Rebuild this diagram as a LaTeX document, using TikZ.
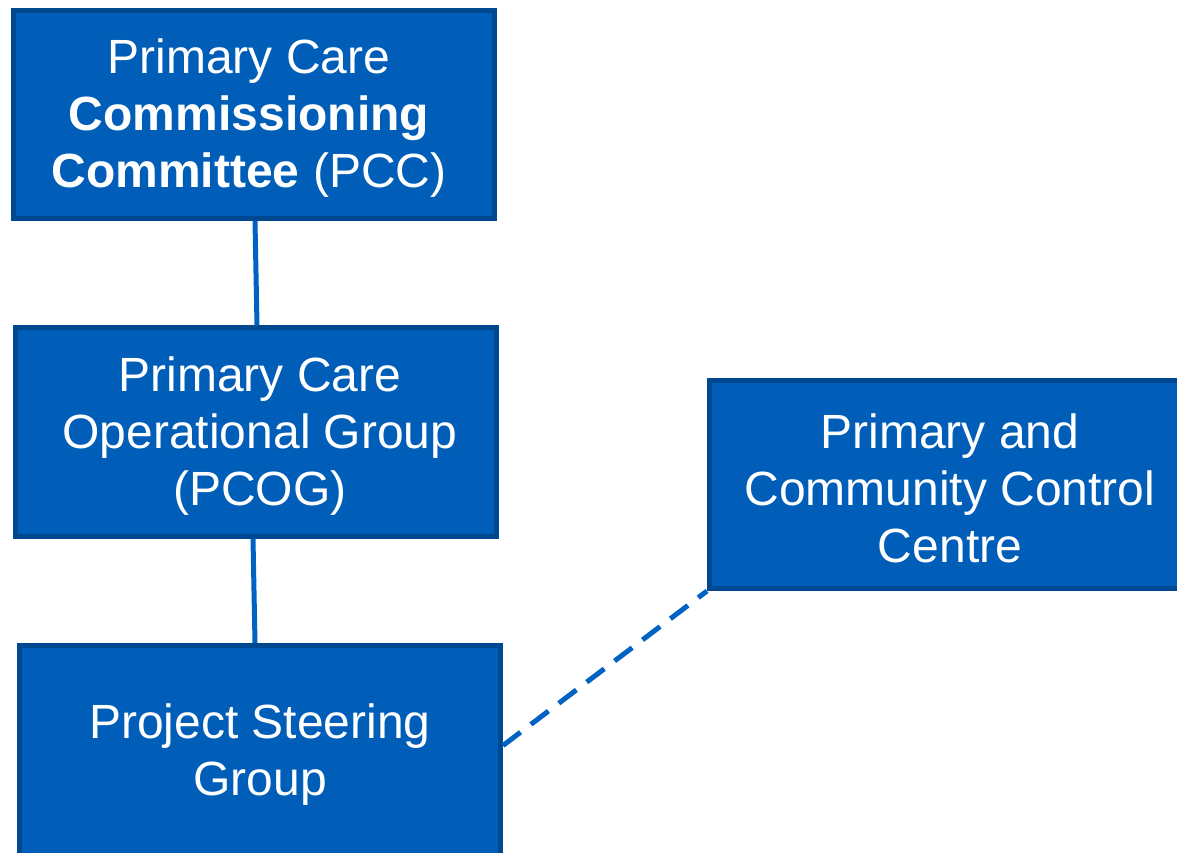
\documentclass[tikz,border=0pt]{standalone}
\usepackage{fontspec}
\setmainfont{Liberation Sans}
\definecolor{boxfill}{HTML}{005EB8}
\definecolor{boxedge}{HTML}{00488F}
\definecolor{linkcol}{HTML}{0062C2}
\begin{document}
\begin{tikzpicture}[x=1pt,y=1pt,
  orgbox/.style 2 args={draw=boxedge, fill=boxfill, line width=5pt,
    minimum width=481pt, minimum height=208pt, inner sep=0pt,
    label={[text=white, align=center, inner sep=0pt,
      font=\fontsize{48}{57}\selectfont, xshift=#1, yshift=-4pt]center:#2}},
  link/.style={draw=linkcol, line width=5pt},
  dashlink/.style={draw=linkcol, line width=5pt, dash pattern=on 22pt off 13pt}]
\useasboundingbox (0,0) rectangle (1177,852);
\clip (0,0) rectangle (1177,852);
\node[orgbox={-5pt}{Primary Care\\\textbf{Commissioning}\\\textbf{Committee} (PCC)}] (pcc) at (254,737.5) {};
\node[orgbox={4pt}{Primary Care\\Operational Group\\(PCOG)}] (pcog) at (256,420) {};
\node[orgbox={0pt}{Project Steering\\Group}, minimum height=210pt] (psg) at (260,101.5) {};
\node[orgbox={0pt}{Primary and\\Community Control\\Centre}] (pccc) at (950,367.5) {};
\draw[link] ([xshift=1pt]pcc.south) -- ([xshift=1pt]pcog.north);
\draw[link] ([xshift=-3pt]pcog.south) -- ([xshift=-5pt]psg.north);
\draw[dashlink] ([yshift=5pt]psg.east) -- (pccc.south west);
\end{tikzpicture}
\end{document}
